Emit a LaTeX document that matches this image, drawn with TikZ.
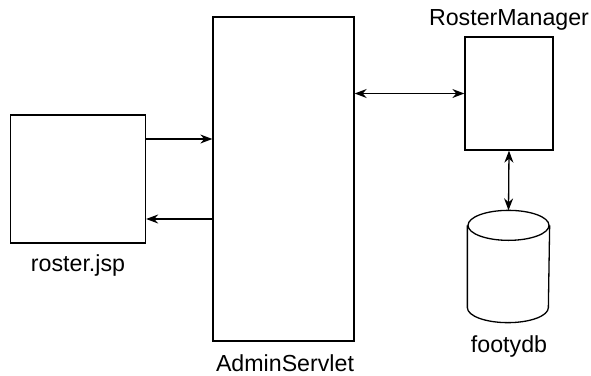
\documentclass[tikz,border=0pt]{standalone}
\usepackage{fontspec}
\setmainfont{Liberation Sans}
\usetikzlibrary{arrows.meta}
\begin{document}
\begin{tikzpicture}[x=1pt,y=1pt,line width=1.3pt,
    box/.style={draw,minimum width=#1,inner sep=0pt},
    tip/.style={-{Stealth[length=12pt,width=9pt]}},
    tips/.style={{Stealth[length=12pt,width=9pt]}-{Stealth[length=12pt,width=9pt]}},
    lbl/.style={font=\fontsize{23.2}{26}\selectfont,anchor=base,text depth=0pt}]
    \useasboundingbox (0,0) rectangle (591,-375);
    % components
    \node[box=135pt,minimum height=128pt] (jsp) at (78,-179) {};
    \node[box=141pt,minimum height=324pt] (servlet) at (283.5,-179) {};
    \node[box=88pt,minimum height=113pt] (manager) at (509,-93.5) {};
    \node[minimum width=81pt,minimum height=111pt,inner sep=0pt] (db) at (508.5,-266.5) {};
    % database drum
    \draw (db.north west) ++(0,-15) -- ([yshift=15pt]db.south west)
        arc[start angle=180,end angle=360,x radius=40.5,y radius=15] -- ([yshift=-15pt]db.north east);
    \draw ([yshift=-15pt]db.north) ellipse [x radius=40.5,y radius=15];
    % names
    \node[lbl] (jsplbl) at (78,-271) {roster.jsp};
    \node[lbl] (servletlbl) at (285,-371) {AdminServlet};
    \node[lbl] (managerlbl) at (509,-25) {RosterManager};
    \node[lbl] (dblbl) at (509,-352) {footydb};
    % calls
    \draw[tip] ([yshift=40pt]jsp.east) -- ([yshift=40pt]jsp.east -| servlet.west);
    \draw[tip] ([yshift=-40pt]jsp.east -| servlet.west) -- ([yshift=-40pt]jsp.east);
    \draw[tips] (manager.west -| servlet.east) -- (manager.west);
    \draw[tips] (manager.south) -- (db.north);
\end{tikzpicture}
\end{document}
